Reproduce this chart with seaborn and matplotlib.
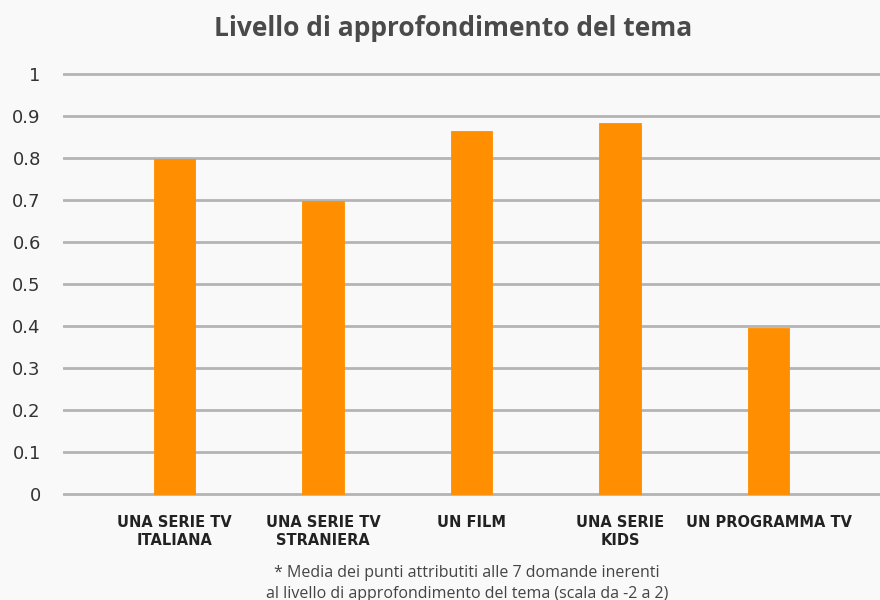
import matplotlib
matplotlib.use("Agg")
import matplotlib.pyplot as plt
import seaborn as sns
import pandas as pd

# Average score per content type
categories = ["UNA SERIE TV\nITALIANA", "UNA SERIE TV\nSTRANIERA", "UN FILM",
              "UNA SERIE\nKIDS", "UN PROGRAMMA TV"]
values = [0.797, 0.697, 0.864, 0.884, 0.395]
y_ticks = [0, 0.1, 0.2, 0.3, 0.4, 0.5, 0.6, 0.7, 0.8, 0.9, 1]
y_tick_labels = ["0", "0.1", "0.2", "0.3", "0.4", "0.5", "0.6", "0.7", "0.8", "0.9", "1"]

title = "Livello di approfondimento del tema"
footnote = ("* Media dei punti attributiti alle 7 domande inerenti\n"
            "al livello di approfondimento del tema (scala da -2 a 2)")

bg = "#f9f9f9"
orange = "#ff8f00"
text_col = "#333333"

sns.set_theme(style="white")
plt.rcParams["font.family"] = ["Open Sans", "DejaVu Sans"]

fig = plt.figure(figsize=(8.8, 6.0), dpi=100, facecolor=bg)
ax = fig.add_axes([0.0716, 0.1697, 0.9284, 0.714])
ax.set_facecolor(bg)

df = pd.DataFrame({"cat": categories, "val": values})
sns.barplot(data=df, x="cat", y="val", color=orange, width=0.28,
            saturation=1, ax=ax, zorder=3)
for p in ax.patches:
    p.set_edgecolor(orange)
    p.set_linewidth(0.6)
    p.set_joinstyle("round")

ax.set_xlim(-0.75, 4.75)
ax.set_ylim(-0.01, 1.01)
ax.set_yticks(y_ticks)
ax.set_yticklabels(y_tick_labels, fontsize=13, color=text_col,
                   family=["DejaVu Sans"])
ax.yaxis.grid(True, color="#b4b4b4", linewidth=2, zorder=0)
ax.tick_params(axis="y", length=0, pad=16)
ax.tick_params(axis="x", length=0, pad=12)
ax.set_xticks(range(len(categories)))
ax.set_xticklabels(categories, fontsize=10.5, fontweight="bold", color="#222222",
                   linespacing=1.25, family=["DejaVu Sans"])
ax.set_xlabel("")
ax.set_ylabel("")
for s in ax.spines.values():
    s.set_visible(False)

fig.text(0.515, 0.953, title, ha="center", va="center", fontsize=19,
         fontweight="bold", color="#4a4a4a")
fig.text(0.531, 0.028, footnote, ha="center", va="center", fontsize=11.5,
         color="#444444", linespacing=1.4)

fig.savefig("out.png", dpi=100, facecolor=bg)
